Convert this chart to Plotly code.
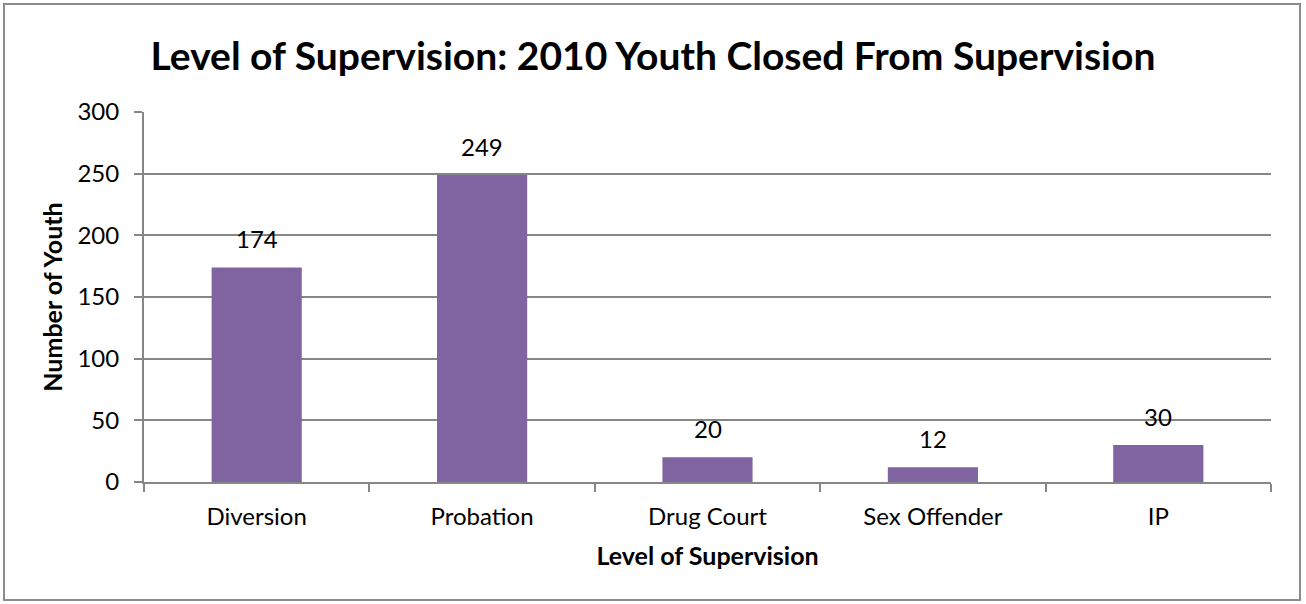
import plotly.graph_objects as go

# Youth closed from supervision in 2010, by level of supervision
levels = ["Diversion", "Probation", "Drug Court", "Sex Offender", "IP"]
youth_counts = [174, 249, 20, 12, 30]
y_ticks = [0, 50, 100, 150, 200, 250, 300]

FONT = "Lato, Carlito, Calibri, sans-serif"
BAR_COLOR = "#8064A2"
GRID_COLOR = "#868686"

W, H = 1306, 604
L, R, T, B = 144, 35, 112, 122
pw, ph = W - L - R, H - T - B

fig = go.Figure(
    go.Bar(
        x=levels,
        y=youth_counts,
        marker=dict(color=BAR_COLOR, line=dict(width=0)),
        width=0.4,
        hoverinfo="x+y",
    )
)

# value labels above each bar
for lvl, val in zip(levels, youth_counts):
    fig.add_annotation(
        x=lvl, y=val, text=str(val), showarrow=False,
        yanchor="bottom", yshift=12,
        font=dict(family=FONT, size=24, color="#000000"),
    )

# outer chart border
def px_x(px):
    return (px - L) / pw

def px_y(py):
    return (H - B - py) / ph

fig.add_shape(
    type="rect", xref="paper", yref="paper",
    x0=px_x(4), x1=px_x(1300), y0=px_y(600), y1=px_y(4),
    line=dict(color="#8c8c8c", width=2), fillcolor="rgba(0,0,0,0)",
    layer="below",
)

fig.update_layout(
    width=W, height=H,
    margin=dict(l=L, r=R, t=T, b=B),
    paper_bgcolor="white",
    plot_bgcolor="white",
    showlegend=False,
    title=dict(
        text="<b>Level of Supervision: 2010 Youth Closed From Supervision</b>",
        x=653 / W, xanchor="center",
        y=1 - 56 / H, yanchor="middle",
        font=dict(family=FONT, size=39, color="#000000"),
    ),
    font=dict(family=FONT, color="#000000"),
)

fig.update_xaxes(
    type="category",
    showline=True, linecolor=GRID_COLOR, linewidth=2,
    ticks="outside", tickson="boundaries", ticklen=8,
    tickcolor=GRID_COLOR, tickwidth=2,
    ticklabelstandoff=12,
    tickfont=dict(family=FONT, size=24, color="#000000"),
    showgrid=False,
    title=dict(text="<b>Level of Supervision</b>", standoff=19,
               font=dict(family=FONT, size=25, color="#000000")),
)

fig.update_yaxes(
    range=[0, 300],
    tickvals=y_ticks,
    showline=True, linecolor=GRID_COLOR, linewidth=2,
    ticks="outside", ticklen=8, tickcolor=GRID_COLOR, tickwidth=2,
    ticklabelstandoff=10,
    showgrid=True, gridcolor=GRID_COLOR, gridwidth=2,
    zeroline=False,
    tickfont=dict(family=FONT, size=24, color="#000000"),
    title=dict(text="<b>Number of Youth</b>", standoff=8,
               font=dict(family=FONT, size=25, color="#000000")),
)

fig.write_html("out.html")
